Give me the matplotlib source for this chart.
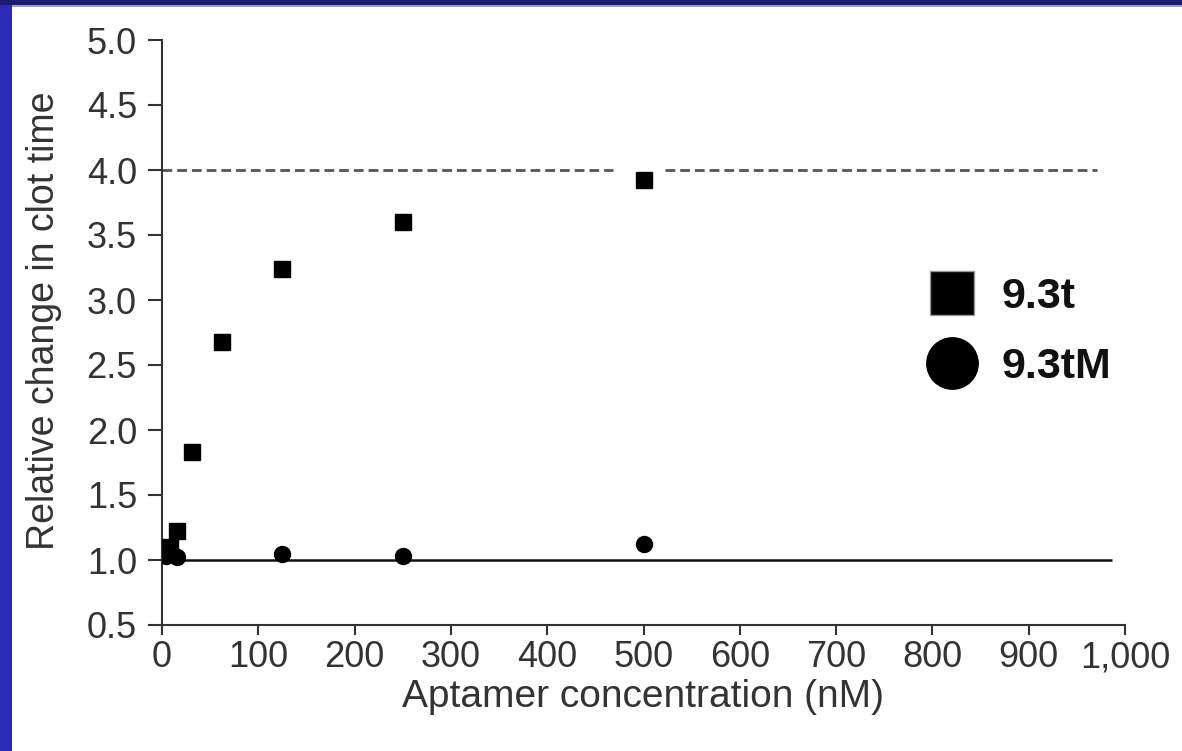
import matplotlib
matplotlib.use("Agg")
import matplotlib.pyplot as plt
from matplotlib.lines import Line2D
from matplotlib.patches import Rectangle

# aptamer concentration (nM) and relative change in clot time
conc_t = [3.9, 7.8, 15.6, 31.25, 62.5, 125, 250, 500]
ratio_t = [1.05, 1.1, 1.22, 1.83, 2.68, 3.24, 3.6, 3.92]

conc_tm = [3.9, 7.8, 15.6, 125, 250, 500]
ratio_tm = [1.03, 1.05, 1.02, 1.05, 1.03, 1.12]

series_names = ["9.3t", "9.3tM"]

baseline = 1.0
ceiling = 4.0
baseline_span = (0, 986)
ceiling_spans = [(0, 468), (522, 971)]

x_ticks = [0, 100, 200, 300, 400, 500, 600, 700, 800, 900, 1000]
x_ticklabels = ["0", "100", "200", "300", "400", "500", "600", "700", "800", "900", "1,000"]
y_ticks = [0.5, 1.0, 1.5, 2.0, 2.5, 3.0, 3.5, 4.0, 4.5, 5.0]

plt.rcParams['font.family'] = ['Liberation Sans', 'DejaVu Sans']
txt = '#333333'

fig = plt.figure(figsize=(11.82, 7.51), dpi=100)
fig.patch.set_facecolor('white')

# blue slide frame on the left and top
fig.patches.append(Rectangle((0, 0), 12 / 1182, 1, transform=fig.transFigure,
                             facecolor='#2b2bb8', edgecolor='none', zorder=0))
fig.patches.append(Rectangle((0, 1 - 5 / 751), 1, 5 / 751, transform=fig.transFigure,
                             facecolor='#1b1b70', edgecolor='none', zorder=0))
fig.patches.append(Rectangle((12 / 1182, 1 - 7 / 751), 1, 2 / 751, transform=fig.transFigure,
                             facecolor='#9a9ad0', edgecolor='none', zorder=0))

ax = fig.add_axes([162 / 1182, 126 / 751, 963 / 1182, 585 / 751])
ax.set_xlim(0, 1000)
ax.set_ylim(0.5, 5.0)

ax.hlines(baseline, *baseline_span, color='#111111', lw=1.8, zorder=2)
for a, b in ceiling_spans:
    ax.hlines(ceiling, a, b, color='#555555', lw=2, linestyles=(0, (3.5, 1.8)), zorder=2)

ax.plot(conc_tm, ratio_tm, 'o', color='black', ms=11.5, ls='none', zorder=3)
ax.plot(conc_t, ratio_t, 's', color='black', ms=12, ls='none', zorder=4)

ax.set_xticks(x_ticks)
ax.set_xticklabels(x_ticklabels)
ax.set_yticks(y_ticks)
ax.set_yticklabels([f"{v:.1f}" for v in y_ticks])

for s in ['top', 'right']:
    ax.spines[s].set_visible(False)
for s in ['left', 'bottom']:
    ax.spines[s].set_color('#333333')
    ax.spines[s].set_linewidth(1.5)

ax.tick_params(axis='x', direction='out', length=7, width=1.5, color='#333333',
               labelsize=26, labelcolor=txt, pad=4)
ax.tick_params(axis='y', direction='out', length=10, width=1.5, color='#333333',
               labelsize=26, labelcolor=txt, pad=8)

ax.set_xlabel("Aptamer concentration (nM)", fontsize=28, color=txt)
ax.set_ylabel("Relative change in clot time", fontsize=27, color=txt)
ax.xaxis.set_label_coords(0.5, -0.093)
ax.yaxis.set_label_coords(-0.104, 0.52)

handles = [
    Line2D([], [], marker='s', color='black', markeredgecolor='#999999', ms=31, ls='none'),
    Line2D([], [], marker='o', color='black', ms=37, ls='none'),
]
fig.legend(handles, series_names, loc='upper left',
           bbox_to_anchor=(870 / 1182, 1 - 238 / 751), frameon=False,
           prop={'weight': 'bold', 'size': 31}, labelspacing=0.7, handletextpad=0.15,
           labelcolor='#111111')

fig.savefig("out.png", dpi=100)
